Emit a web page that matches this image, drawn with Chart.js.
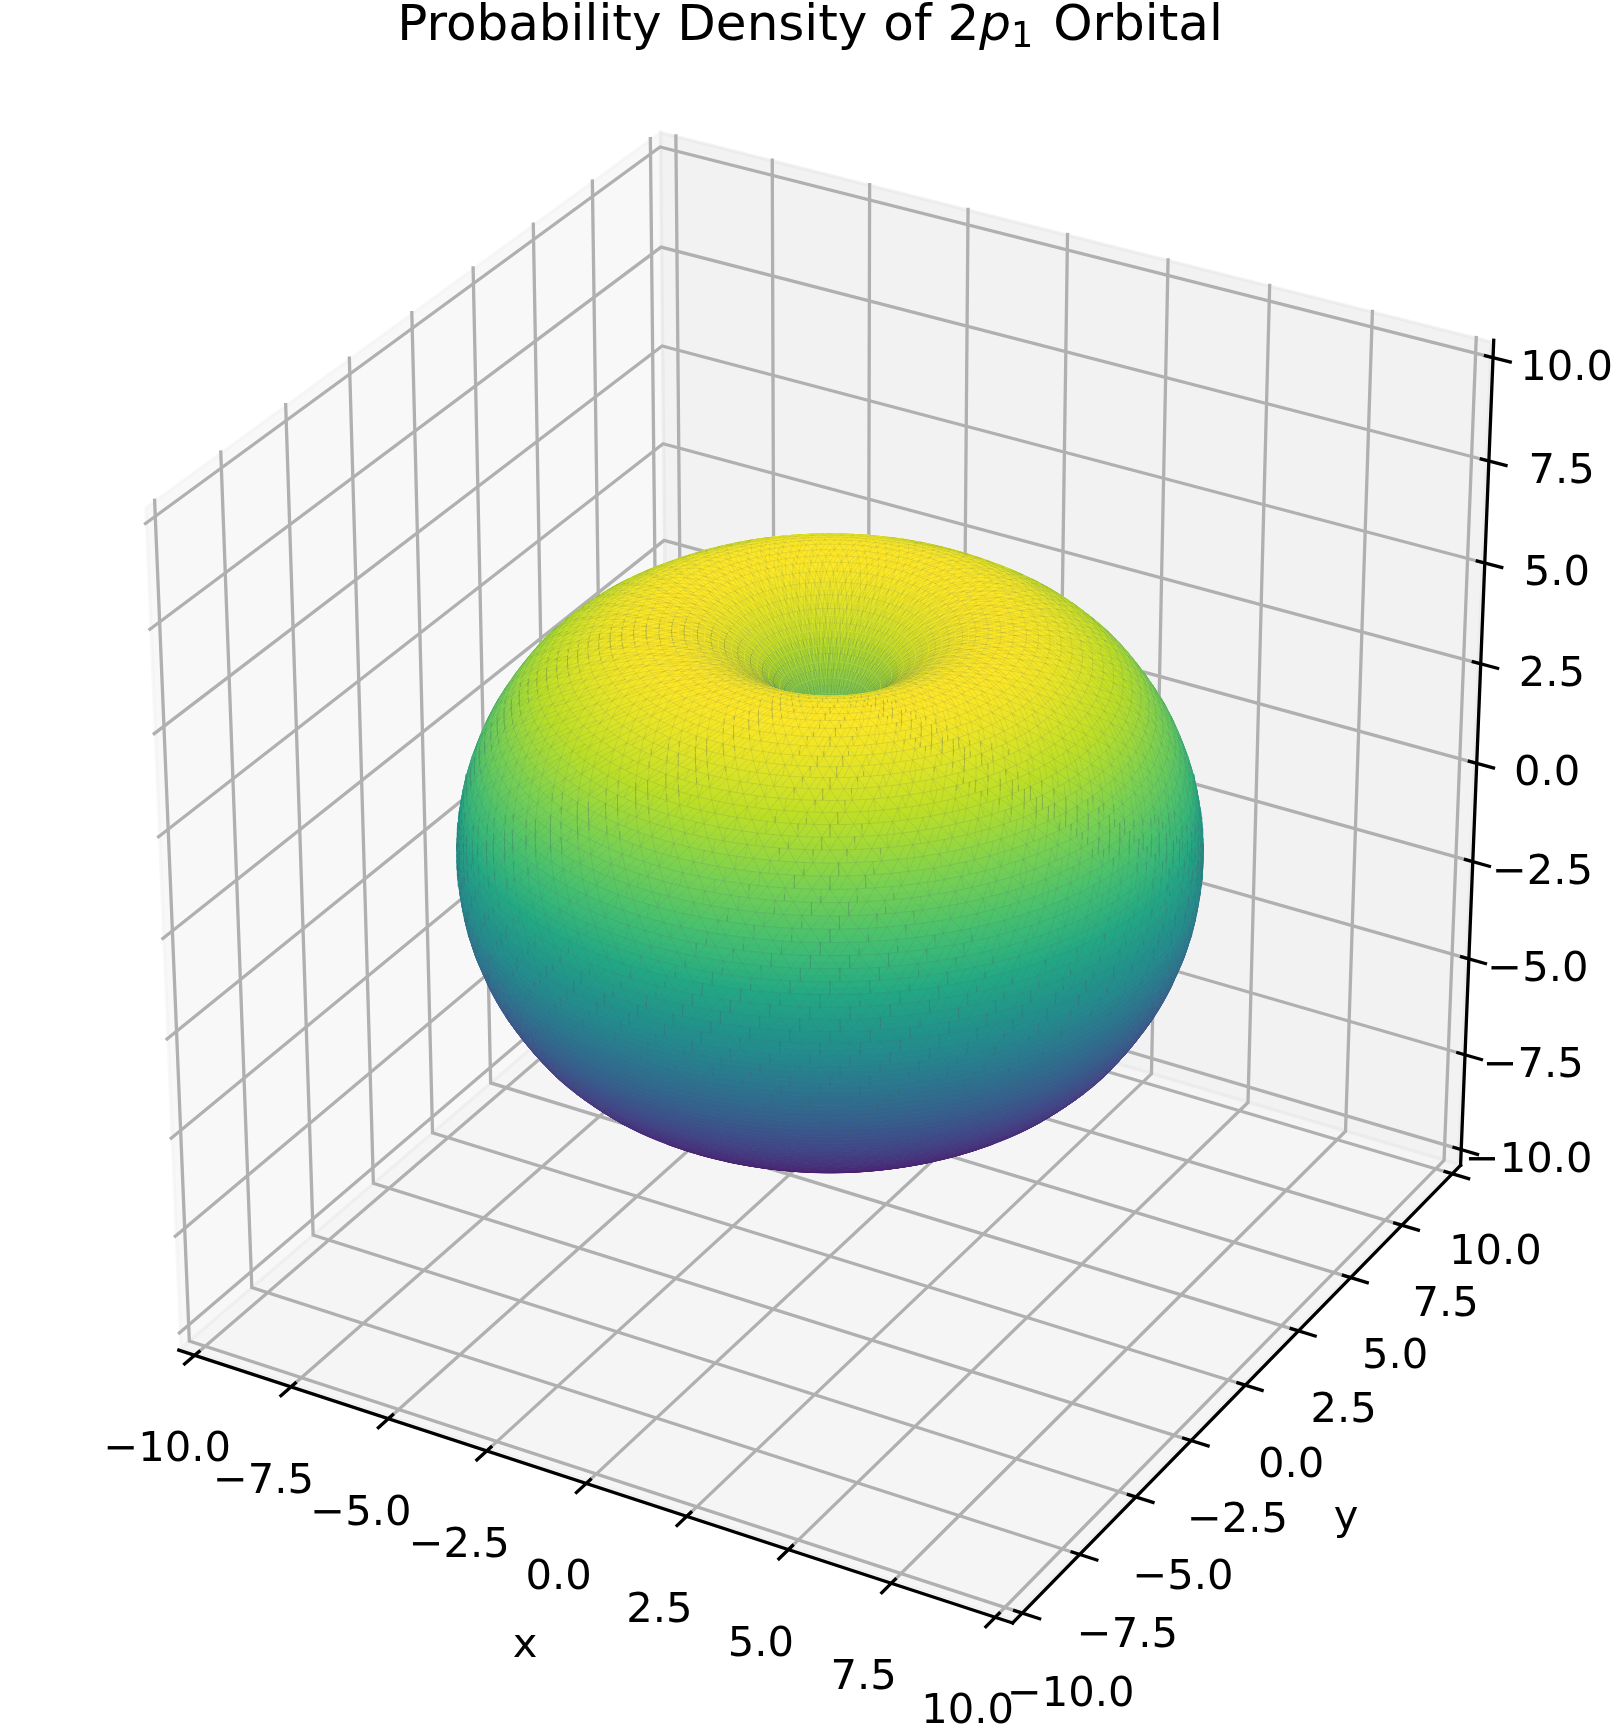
<!DOCTYPE html>
<html><head><meta charset="utf-8"><style>html,body{margin:0;padding:0;background:#fff}canvas{display:block}</style>
<script src="https://cdn.jsdelivr.net/npm/chart.js@4"></script></head><body>
<canvas id="c" width="1617" height="1734"></canvas>
<script>
// ---- data ----
const tickValues=[-10,-7.5,-5,-2.5,0,2.5,5,7.5,10];
const tickLabels=['\u221210.0','\u22127.5','\u22125.0','\u22122.5','0.0','2.5','5.0','7.5','10.0'];
const axisEdge=10.4167,paneEdge=10.38;
// polar angle from +z (deg) and surface distance from the origin (axis units), upper half of the lobe
const polarAngles=[0,1,2,3,4,5,6,7,8,9,10,11,12,13,14,15,16,17,18,19,20,21,22,23,24,25,26,27,28,29,30,31,32,33,34,35,36,37,38,39,40,41,42,43,44,45,46,47,48,49,50,51,52,53,54,55,56,57,58,59,60,61,62,63,64,65,66,67,68,69,70,71,72,73,74,75,76,77,78,79,80,81,82,83,84,85,86,87,88,89,90];
const surfaceRadii=[0,1.20,1.70,2.00,2.25,2.42,2.58,2.81,3.03,3.23,3.41,3.57,3.72,3.88,4.04,4.20,4.36,4.52,4.68,4.83,4.97,5.12,5.26,5.40,5.54,5.67,5.80,5.92,6.03,6.13,6.23,6.31,6.38,6.46,6.53,6.61,6.68,6.75,6.81,6.87,6.92,6.97,7.02,7.07,7.11,7.15,7.19,7.23,7.26,7.30,7.33,7.38,7.42,7.46,7.50,7.54,7.57,7.60,7.63,7.66,7.69,7.72,7.74,7.76,7.78,7.80,7.82,7.84,7.86,7.88,7.90,7.92,7.93,7.95,7.96,7.97,7.98,8.00,8.01,8.02,8.03,8.04,8.04,8.05,8.05,8.06,8.06,8.07,8.07,8.07,8.07];
const viridisStops=['#440154','#482475','#414487','#355f8d','#2a788e','#21918c','#22a884','#44bf70','#7ad151','#bddf26','#fde725'];
const titleParts=[['Probability Density of 2','normal'],['p','italic'],['1','sub'],[' Orbital','normal']];

// ---- camera ----
const W=1617,H=1734,CX=830,CY=850,S=9240,DIST=10;
const uAxis=[0.8660254,0.5,0],vAxis=[-0.25,0.4330127,0.8660254],wAxis=[0.4330127,-0.75,0.5];
const dot=(a,b)=>a[0]*b[0]+a[1]*b[1]+a[2]*b[2];
function project(x,y,z){const p=[x/20,y/20,z/20],f=1/(DIST-dot(wAxis,p));return {x:CX+S*dot(uAxis,p)*f,y:CY-S*dot(vAxis,p)*f};}
const eye=wAxis.map(v=>v*DIST*20);
const E=axisEdge,P=paneEdge,GAP={x:null,y:null};

const datasets=[];
function add(points,o){datasets.push(Object.assign({data:points,showLine:true,pointRadius:0,pointHoverRadius:0,tension:0,fill:false,borderWidth:0,borderColor:'transparent',backgroundColor:'transparent',borderCapStyle:'butt',borderJoinStyle:'miter'},o));}
function poly(pts,fill,edge,lw){add(pts.concat([pts[0]]),{fill:'shape',backgroundColor:fill,borderColor:edge,borderWidth:lw});}
function line(pts,color,lw,cap){add(pts,{borderColor:color,borderWidth:lw,borderCapStyle:cap||'butt'});}

// panes
const xp='rgba(242,242,242,0.5)',yp='rgba(230,230,230,0.5)',zp='rgba(236,236,236,0.5)';
poly([[-P,-P,-P],[-P,P,-P],[-P,P,P],[-P,-P,P]].map(p=>project(...p)),xp,xp,3.3);
poly([[-P,P,-P],[P,P,-P],[P,P,P],[-P,P,P]].map(p=>project(...p)),yp,yp,3.3);
poly([[-P,-P,-P],[P,-P,-P],[P,P,-P],[-P,P,-P]].map(p=>project(...p)),zp,zp,3.3);
// grid
const GC='#b0b0b0',LW=3.3;
tickValues.forEach(t=>{
  line([project(t,-E,-E),project(t,E,-E),project(t,E,E)],GC,LW);
  line([project(E,t,-E),project(-E,t,-E),project(-E,t,E)],GC,LW);
  line([project(-E,-E,t),project(-E,E,t),project(E,E,t)],GC,LW);
});
// axis lines + ticks
line([project(-E,-E,-E),project(E,-E,-E)],'#000',LW,'square');
line([project(E,-E,-E),project(E,E,-E)],'#000',LW,'square');
line([project(E,E,-E),project(E,E,E)],'#000',LW,'square');
const TI=0.22,TO=0.45;
tickValues.forEach(t=>{
  line([project(t,-E+TI,-E),project(t,-E-TO,-E)],'#000',LW);
  line([project(E-TI,t,-E),project(E+TO,t,-E)],'#000',LW);
  line([project(E-TI,E,t),project(E+TO,E,t)],'#000',LW);
});

// surface: one closed strip per latitude band, polar bands painted first, equator last
const th=polarAngles.concat(polarAngles.slice(0,-1).reverse().map(a=>180-a));
const rr=surfaceRadii.concat(surfaceRadii.slice(0,-1).reverse());
const rho=th.map((a,i)=>rr[i]*Math.sin(a*Math.PI/180));
const zed=th.map((a,i)=>rr[i]*Math.cos(a*Math.PI/180));
const zMax=Math.max(...zed),zMin=Math.min(...zed);
function viridis(v){v=Math.min(1,Math.max(0,v))*(viridisStops.length-1);const i=Math.min(viridisStops.length-2,Math.floor(v)),f=v-i;
  const h=s=>[1,3,5].map(k=>parseInt(s.substr(k,2),16)),a=h(viridisStops[i]),b=h(viridisStops[i+1]);
  return 'rgb('+a.map((c,k)=>Math.round(c+(b[k]-c)*f)).join(',')+')';}
const NLON=240,dLon=2*Math.PI/NLON;
const ringPt=(i,j)=>{const a=j*dLon;return project(rho[i]*Math.cos(a),rho[i]*Math.sin(a),zed[i]);};
const mid=(th.length-1)/2;
const bandOrder=[...Array(th.length-1).keys()].sort((a,b)=>Math.abs(b+.5-mid)-Math.abs(a+.5-mid));
bandOrder.forEach(i=>{
  const dr=rho[i+1]-rho[i],dz=zed[i+1]-zed[i],mr=(rho[i]+rho[i+1])/2,mz=(zed[i]+zed[i+1])/2;
  const vis=[];
  for(let j=0;j<NLON;j++){const a=(j+.5)*dLon,c=Math.cos(a),s=Math.sin(a);
    const n=[-dz*c,-dz*s,dr],m=[mr*c,mr*s,mz];
    vis.push(dot(n,[eye[0]-m[0],eye[1]-m[1],eye[2]-m[2]])>0);}
  const color=viridis((mz-zMin)/(zMax-zMin));
  const starts=[];
  if(vis.every(Boolean))starts.push(0);else for(let j=0;j<NLON;j++)if(vis[j]&&!vis[(j+NLON-1)%NLON])starts.push(j);
  const mesh=[];
  const odd=i%2===1,row=i>>1;
  starts.forEach(j0=>{
    let n=0;while(n<NLON&&vis[(j0+n)%NLON])n++;
    const top=[],bot=[];
    for(let k=0;k<=n;k++){top.push(ringPt(i,j0+k));bot.push(ringPt(i+1,j0+k));}
    poly(top.concat(bot.reverse()),color,color,1);
    for(let k=0;k<n;k++){
      const j=j0+k,flip=(row*7+j*3)%5<2;
      if(!odd)mesh.push(ringPt(i,j),ringPt(i,j+1),GAP);
      if((j+row)%4===0)mesh.push(ringPt(i,j),ringPt(i+1,j),GAP);
      if(!odd)mesh.push(ringPt(i,flip?j:j+1),ringPt(i+1,j+.5),GAP);
      else mesh.push(ringPt(i,j+.5),ringPt(i+1,flip?j+1:j),GAP);
    }
  });
  const wall=i<18||i>th.length-19;
  if(mesh.length)line(mesh,wall?'rgba(60,110,110,0.24)':'rgba(80,100,105,0.18)',0.8);
});
// first dataset in the list is painted first
datasets.forEach((d,i)=>{d.order=datasets.length-i;});

// labels
const FONT='"DejaVu Sans"';
const textPlugin={id:'text3d',afterDraw(chart){
  const ctx=chart.ctx,sx=chart.scales.x,sy=chart.scales.y;
  const at=(p,dx,dy,t)=>ctx.fillText(t,sx.getPixelForValue(p.x)+dx,sy.getPixelForValue(p.y)+dy);
  ctx.save();ctx.fillStyle='#000';ctx.textAlign='center';ctx.textBaseline='alphabetic';ctx.font='41.67px '+FONT;
  const cap=15;
  tickValues.forEach((t,i)=>{
    at(project(t,-E,-E),-27.5,91+cap,tickLabels[i]);
    at(project(E,t,-E),45.7-.27*t,76.5-.15*t+cap,tickLabels[i]);
    at(project(E,E,t),70.5+.3*t,7+cap,tickLabels[i]);
  });
  ctx.fillText('x',525,1657);
  ctx.fillText('y',1346,1529);
  // title
  const fonts={normal:'50px '+FONT,italic:'italic 50px '+FONT,sub:'35px '+FONT};
  let total=4;titleParts.forEach(p=>{ctx.font=fonts[p[1]];total+=ctx.measureText(p[0]).width;});
  let x=810-total/2;ctx.textAlign='left';
  titleParts.forEach(p=>{ctx.font=fonts[p[1]];ctx.fillText(p[0],x,p[1]==='sub'?47:40);x+=ctx.measureText(p[0]).width+(p[1]==='sub'?4:0);});
  ctx.restore();
}};

new Chart(document.getElementById('c'),{type:'scatter',data:{datasets},plugins:[textPlugin],options:{
  responsive:false,animation:false,events:[],
  layout:{padding:0},
  scales:{x:{type:'linear',display:false,min:0,max:W},y:{type:'linear',display:false,min:0,max:H,reverse:true}},
  plugins:{legend:{display:false},tooltip:{enabled:false},title:{display:false},decimation:{enabled:false}}
}});
</script></body></html>
